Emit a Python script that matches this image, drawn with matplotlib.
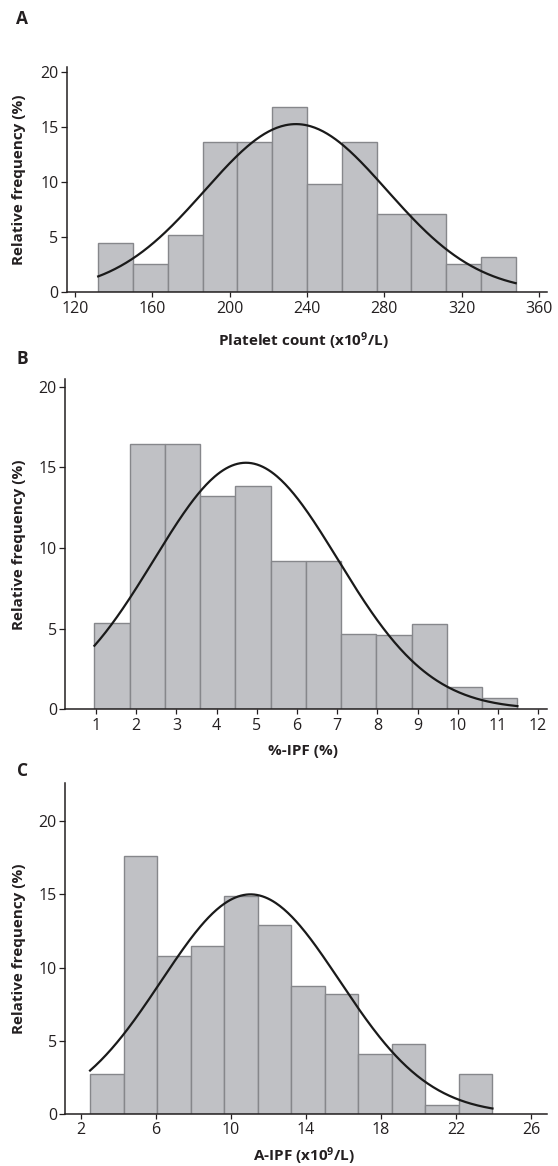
import numpy as np
import matplotlib
matplotlib.use("Agg")
import matplotlib.pyplot as plt

plt.rcParams['font.family'] = ['Open Sans', 'DejaVu Sans']
plt.rcParams['mathtext.fontset'] = 'custom'
plt.rcParams['mathtext.rm'] = 'Open Sans:bold'
plt.rcParams['mathtext.it'] = 'Open Sans:bold'
plt.rcParams['mathtext.bf'] = 'Open Sans:bold'
plt.rcParams['mathtext.default'] = 'rm'

# ---- Data ----
# Panel A: platelet count
a_bin_start = 132.0
a_bin_width = 18.0
a_freq = [4.44, 2.57, 5.23, 13.63, 13.63, 16.77, 9.79, 13.63, 7.13, 7.13, 2.6, 3.17]
a_mean, a_sd = 234.3, 47.1
a_xticks = [120, 160, 200, 240, 280, 320, 360]

# Panel B: %-IPF
b_bin_start = 0.96
b_bin_width = 0.877
b_freq = [5.33, 16.47, 16.47, 13.2, 13.82, 9.21, 9.17, 4.65, 4.59, 5.31, 1.38, 0.68]
b_mean, b_sd = 4.73, 2.29
b_xticks = [1, 2, 3, 4, 5, 6, 7, 8, 9, 10, 11, 12]

# Panel C: A-IPF
c_bin_start = 2.5
c_bin_width = 1.787
c_freq = [2.73, 17.65, 10.82, 11.5, 14.92, 12.89, 8.72, 8.18, 4.1, 4.76, 0.62, 2.76]
c_mean, c_sd = 11.05, 4.75
c_xticks = [2, 6, 10, 14, 18, 22, 26]

y_ticks = [0, 5, 10, 15, 20]

panels = [
    dict(letter='A', start=a_bin_start, width=a_bin_width, freq=a_freq, mean=a_mean, sd=a_sd,
         xticks=a_xticks, xlim=(115.7, 364.2), ylim=(0, 20.45),
         xlabel=r'Platelet count (x10$^{9}$/L)',
         rect_px=(66.7, 292.3, 547, 66.7), letter_y=19, xlabel_y=341),
    dict(letter='B', start=b_bin_start, width=b_bin_width, freq=b_freq, mean=b_mean, sd=b_sd,
         xticks=b_xticks, xlim=(0.235, 12.22), ylim=(0, 20.45),
         xlabel='%-IPF (%)',
         rect_px=(65.3, 709.3, 547, 379.3), letter_y=359, xlabel_y=751),
    dict(letter='C', start=c_bin_start, width=c_bin_width, freq=c_freq, mean=c_mean, sd=c_sd,
         xticks=c_xticks, xlim=(1.18, 26.85), ylim=(0, 22.64),
         xlabel=r'A-IPF (x10$^{9}$/L)',
         rect_px=(65.3, 1114, 547, 782.7), letter_y=771, xlabel_y=1156),
]

W, H = 558, 1166
fig = plt.figure(figsize=(W / 100, H / 100), dpi=100)

bar_face = '#c0c1c5'
bar_edge = '#86878b'
txt_col = '#231f20'

for p in panels:
    x0, yb, x1, yt = p['rect_px']
    ax = fig.add_axes([x0 / W, (H - yb) / H, (x1 - x0) / W, (yb - yt) / H])
    n = len(p['freq'])
    lefts = p['start'] + p['width'] * np.arange(n)
    ax.bar(lefts, p['freq'], width=p['width'], align='edge',
           color=bar_face, edgecolor=bar_edge, linewidth=1.0, zorder=2)
    xs = np.linspace(p['start'], p['start'] + n * p['width'], 300)
    ys = 100 * p['width'] * np.exp(-0.5 * ((xs - p['mean']) / p['sd']) ** 2) / (p['sd'] * np.sqrt(2 * np.pi))
    ax.plot(xs, ys, color='#1a1a1a', linewidth=1.6, zorder=3)

    ax.set_xlim(*p['xlim'])
    ax.set_ylim(*p['ylim'])
    ax.set_xticks(p['xticks'])
    ax.set_yticks(y_ticks)
    for s in ['top', 'right']:
        ax.spines[s].set_visible(False)
    for s in ['left', 'bottom']:
        ax.spines[s].set_linewidth(1.1)
        ax.spines[s].set_color('#231f20')
    ax.tick_params(axis='x', direction='out', length=3.5, width=0.9, pad=2.5,
                   labelsize=11.5, colors=txt_col)
    ax.tick_params(axis='y', direction='out', length=4.5, width=0.9, pad=1.5,
                   labelsize=11.5, colors=txt_col)
    ax.patch.set_alpha(0)

    fig.text(19.5 / W, 1 - ((yb + yt) / 2) / H, 'Relative frequency (%)', rotation=90,
             ha='center', va='center', fontsize=11, fontweight='bold', color=txt_col)
    fig.text(303.5 / W, 1 - p['xlabel_y'] / H, p['xlabel'], ha='center', va='center',
             fontsize=11, fontweight='bold', color=txt_col)
    fig.text(22.5 / W, 1 - p['letter_y'] / H, p['letter'], ha='center', va='center',
             fontsize=12.5, fontweight='bold', color=txt_col)

fig.savefig('out.png', dpi=100)
